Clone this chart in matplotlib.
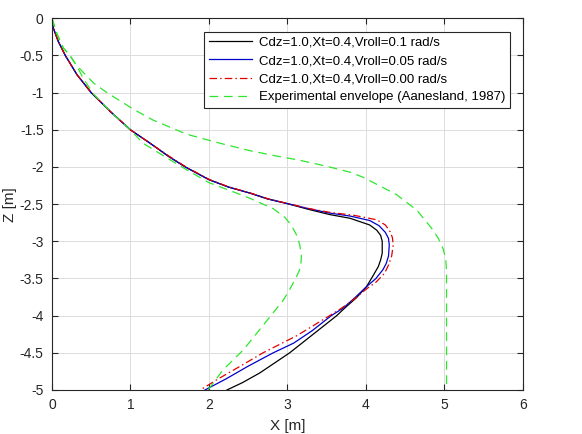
import matplotlib
matplotlib.use("Agg")
import matplotlib.pyplot as plt

plt.rcParams['font.family'] = ['Liberation Sans', 'DejaVu Sans']
plt.rcParams['axes.unicode_minus'] = False

# Simulation: Vroll = 0.1 rad/s (black)
z_black = [0, -0.05, -0.13, -0.31, -0.5, -0.76, -1.0, -1.26, -1.5, -1.68, -1.86, -2.0, -2.17, -2.27,
           -2.35, -2.43, -2.49, -2.57, -2.64, -2.69, -2.78, -2.85, -2.92, -3.0, -3.16, -3.25, -3.34,
           -3.45, -3.61, -3.76, -3.9, -4.0, -4.25, -4.5, -4.77, -4.9, -5.0]
x_black = [0, 0.003, 0.017, 0.08, 0.17, 0.32, 0.50, 0.75, 1.0, 1.25, 1.49, 1.7, 2.0, 2.25,
           2.52, 2.75, 2.99, 3.27, 3.54, 3.80, 4.05, 4.14, 4.19, 4.21, 4.21, 4.19, 4.16,
           4.10, 4.01, 3.88, 3.73, 3.63, 3.33, 3.03, 2.65, 2.43, 2.23]

# Simulation: Vroll = 0.05 rad/s (blue)
z_blue = [0, -0.05, -0.13, -0.31, -0.5, -0.76, -1.0, -1.26, -1.5, -1.68, -1.86, -2.0, -2.17, -2.27,
          -2.35, -2.43, -2.49, -2.56, -2.62, -2.66, -2.72, -2.79, -2.88, -2.96, -3.05, -3.2, -3.3,
          -3.38, -3.5, -3.61, -3.76, -3.9, -4.0, -4.2, -4.37, -4.5, -4.68, -4.85, -5.0]
x_blue = [0, 0.003, 0.017, 0.08, 0.17, 0.32, 0.50, 0.75, 1.0, 1.25, 1.49, 1.7, 2.0, 2.25,
          2.52, 2.75, 2.99, 3.27, 3.54, 3.80, 4.05, 4.17, 4.25, 4.29, 4.30, 4.29, 4.26,
          4.22, 4.13, 4.01, 3.86, 3.71, 3.56, 3.32, 3.08, 2.82, 2.50, 2.22, 1.95]

# Simulation: Vroll = 0.00 rad/s (red)
z_red = [0, -0.05, -0.13, -0.31, -0.5, -0.76, -1.0, -1.26, -1.5, -1.68, -1.86, -2.0, -2.17, -2.27,
         -2.35, -2.43, -2.49, -2.56, -2.61, -2.65, -2.71, -2.78, -2.87, -2.95, -3.05, -3.2, -3.32,
         -3.43, -3.55, -3.64, -3.78, -3.9, -4.0, -4.27, -4.5, -4.68, -4.85, -5.0]
x_red = [0, 0.003, 0.017, 0.08, 0.17, 0.32, 0.50, 0.75, 1.0, 1.25, 1.50, 1.71, 2.01, 2.26,
         2.53, 2.76, 3.0, 3.28, 3.54, 3.85, 4.14, 4.25, 4.31, 4.34, 4.35, 4.33, 4.29,
         4.24, 4.13, 4.01, 3.85, 3.69, 3.54, 3.12, 2.69, 2.40, 2.12, 1.89]

# Experimental envelope - inner branch
z_env_in = [0, -0.2, -0.4, -0.5, -0.63, -0.81, -1.02, -1.27, -1.5, -1.68, -1.9, -2.04, -2.21, -2.37,
            -2.42, -2.56, -2.68, -2.78, -2.92, -3.05, -3.2, -3.35, -3.47, -3.65, -3.79, -4.04,
            -4.46, -4.73, -5.0]
x_env_in = [0, 0.06, 0.145, 0.23, 0.31, 0.40, 0.53, 0.76, 1.0, 1.16, 1.5, 1.72, 2.0, 2.4,
            2.52, 2.82, 2.97, 3.05, 3.12, 3.16, 3.18, 3.17, 3.12, 3.03, 2.95, 2.76,
            2.44, 2.18, 1.99]

# Experimental envelope - outer branch
z_env_out = [0, -0.2, -0.4, -0.5, -0.63, -0.87, -1.0, -1.23, -1.37, -1.56, -1.68, -1.78, -1.85, -1.91,
             -1.99, -2.07, -2.14, -2.37, -2.58, -2.85, -2.97, -3.11, -3.25, -3.4, -5.0]
x_env_out = [0, 0.06, 0.145, 0.23, 0.31, 0.53, 0.70, 1.05, 1.29, 1.72, 2.14, 2.52, 2.85, 3.16,
             3.5, 3.8, 3.97, 4.39, 4.65, 4.86, 4.93, 4.99, 5.02, 5.03, 5.03]

labels = ['Cdz=1.0,Xt=0.4,Vroll=0.1 rad/s',
          'Cdz=1.0,Xt=0.4,Vroll=0.05 rad/s',
          'Cdz=1.0,Xt=0.4,Vroll=0.00 rad/s',
          'Experimental envelope (Aanesland, 1987)']

xticks = [0, 1, 2, 3, 4, 5, 6]
yticks = [0, -0.5, -1, -1.5, -2, -2.5, -3, -3.5, -4, -4.5, -5]
ytick_labels = ['0', '-0.5', '-1', '-1.5', '-2', '-2.5', '-3', '-3.5', '-4', '-4.5', '-5']

green = '#2ee62e'

fig = plt.figure(figsize=(5.82, 4.34), dpi=100)
ax = fig.add_axes([0.0893, 0.1014, 0.8087, 0.8564])

lw = 0.9
ax.plot(x_black, z_black, color='black', lw=lw, label=labels[0])
ax.plot(x_blue, z_blue, color='#0000cc', lw=lw, label=labels[1])
ax.plot(x_red, z_red, color='#e00000', lw=lw, dashes=(6, 2.5, 1.2, 2.5), label=labels[2])
ax.plot(x_env_out, z_env_out, color=green, lw=lw, dashes=(7, 4.5), label=labels[3])
ax.plot(x_env_in, z_env_in, color=green, lw=lw, dashes=(7, 4.5))

ax.set_xlim(0, 6)
ax.set_ylim(-5, 0)
ax.set_xticks(xticks)
ax.set_xticklabels([str(t) for t in xticks])
ax.set_yticks(yticks)
ax.set_yticklabels(ytick_labels)

ax.grid(True, color='#dcdcdc', lw=0.7)
ax.set_axisbelow(True)
ax.tick_params(direction='in', top=True, right=True, length=4, width=0.8,
               labelsize=10, colors='#262626', pad=6)
for s in ax.spines.values():
    s.set_color('#262626')
    s.set_linewidth(0.8)

ax.set_xlabel('X [m]', fontsize=11, color='#262626', labelpad=5)
ax.set_ylabel('Z [m]', fontsize=11, color='#262626', labelpad=2)

leg = ax.legend(loc='upper right', bbox_to_anchor=(0.973, 0.963), fontsize=9.5,
                frameon=True, fancybox=False, framealpha=1, edgecolor='#262626',
                handlelength=3.3, handletextpad=0.5, borderpad=0.35, labelspacing=0.45,
                borderaxespad=0)
leg.get_frame().set_linewidth(0.8)

fig.savefig('out.png', dpi=100)
